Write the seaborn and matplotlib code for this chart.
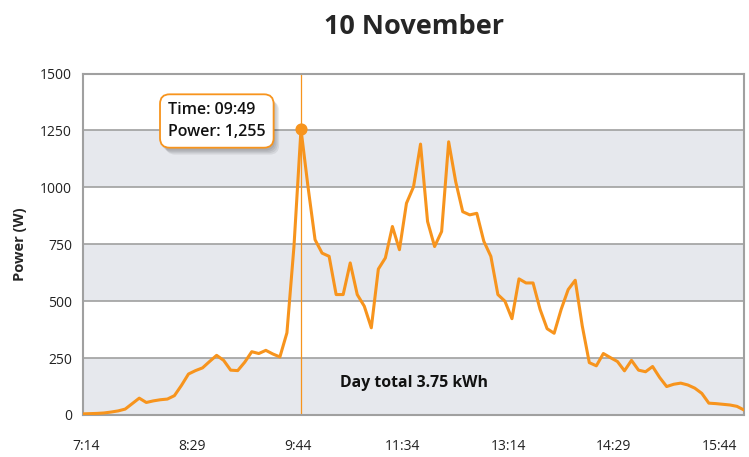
import numpy as np
import pandas as pd
import matplotlib
matplotlib.use('Agg')
import matplotlib.pyplot as plt
import matplotlib.patheffects as pe
import seaborn as sns

# power readings (W), one per sample
power = [5, 6, 7, 9, 13, 18, 26, 50, 74, 55,
         62, 67, 70, 85, 130, 180, 195, 207, 235, 262,
         240, 197, 195, 232, 278, 270, 284, 268, 255, 361,
         740, 1255, 1002, 770, 711, 697, 529, 529, 668, 529,
         478, 383, 641, 690, 828, 726, 930, 1002, 1190, 850,
         740, 806, 1200, 1025, 893, 879, 886, 763, 697, 529,
         500, 423, 598, 580, 580, 464, 379, 359, 464, 551,
         592, 391, 230, 216, 270, 252, 235, 194, 240, 197,
         190, 213, 165, 125, 135, 140, 132, 118, 95, 52,
         50, 47, 44, 38, 22]
tick_labels = ['7:14', '8:29', '9:44', '11:34', '13:14', '14:29', '15:44']
y_ticks = [0, 250, 500, 750, 1000, 1250, 1500]
peak_idx = 31
peak_time = '09:49'
day_total = 3.75

df = pd.DataFrame({'idx': np.arange(len(power)), 'power': power})

sns.set_style('white')
plt.rcParams['font.family'] = ['Open Sans', 'DejaVu Sans']

orange = '#f7941d'
fig = plt.figure(figsize=(7.49, 4.57), dpi=100)
ax = fig.add_axes([83/749, 1-415/457, (744-83)/749, (415-73.5)/457])

# alternating bands
for lo, hi in zip(y_ticks[:-1:2], y_ticks[1::2]):
    ax.axhspan(lo, hi, color='#e6e8ed', zorder=0, lw=0)
for y in y_ticks[1:-1]:
    ax.axhline(y, color='#a0a0a0', lw=1.2, zorder=1)

sns.lineplot(data=df, x='idx', y='power', ax=ax, color=orange, lw=2.2, zorder=3)

ax.axvline(peak_idx, color=orange, lw=0.9, zorder=2)
ax.scatter([peak_idx], [power[peak_idx]], s=60, color=orange, zorder=4)

ax.set_xlim(0, len(power) - 1)
ax.set_ylim(0, 1500)
ax.set_yticks(y_ticks)
ax.set_xticks(np.arange(len(tick_labels)) * 15 + 0.5)
ax.set_xticklabels(tick_labels)
ax.tick_params(axis='x', length=11, width=1.2, color='#a0a0a0', pad=6, labelsize=10, labelcolor='#222222')
ax.tick_params(axis='y', length=0, pad=8, labelsize=10, labelcolor='#222222')
for s in ax.spines.values():
    s.set_color('#a0a0a0')
    s.set_linewidth(1.5)

ax.set_xlabel('')
ax.set_ylabel('Power (W)', fontsize=10.5, fontweight='bold', labelpad=9)

fig.text(414/749, 1-27/457, '10 November', ha='center', va='center',
         fontsize=19.5, fontweight='bold')

ax.text(0.5, 0.095, f'Day total {day_total} kWh', transform=ax.transAxes,
        ha='center', va='center', fontsize=11.4, fontweight='bold', color='#111111')

tip = fig.text(168/749, 1-121/457, f'Time: {peak_time}\nPower: {power[peak_idx]:,}',
               ha='left', va='center', fontsize=11.5, fontweight='semibold',
               linespacing=1.45, zorder=10, color='#111111',
               bbox=dict(boxstyle='round,pad=0.5,rounding_size=0.6', fc='white',
                         ec=orange, lw=1.3))
shadows = [pe.SimplePatchShadow(offset=(o, -o - 1), shadow_rgbFace='#000000', alpha=0.07)
           for o in (4, 3, 2, 1)]
tip.get_bbox_patch().set_path_effects(shadows + [pe.Normal()])

fig.savefig('out.png', dpi=100)
